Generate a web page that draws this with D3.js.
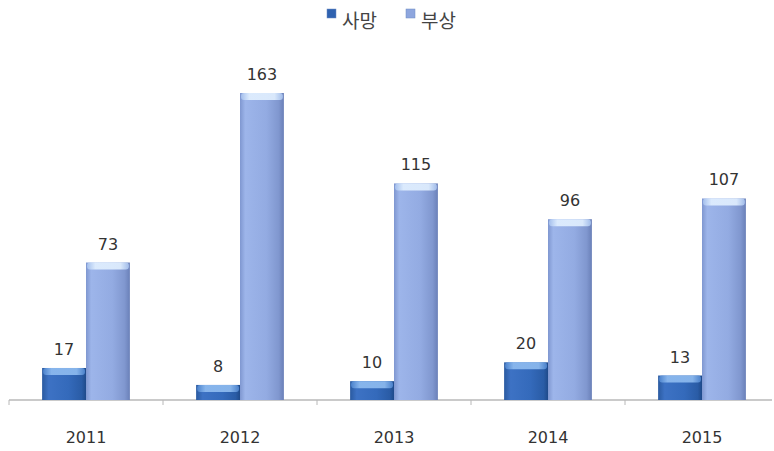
<!DOCTYPE html>
<html><head><meta charset="utf-8">
<script src="https://cdn.jsdelivr.net/npm/d3@7"></script>
<style>body{margin:0;background:#fff}svg{display:block}</style>
</head><body>
<svg id="c" width="774" height="451"></svg>
<script>
const categories = ["2011","2012","2013","2014","2015"];
const seriesNames = ["사망","부상"];
const deaths = [17, 8, 10, 20, 13];
const injuries = [73, 163, 115, 96, 107];

const svg = d3.select("#c");
const W = 774, H = 451;
const base = 400;
const x = d3.scaleBand().domain(categories).range([9, 779]).paddingInner(0.43).paddingOuter(0.215);
const x1 = d3.scaleBand().domain(seriesNames).range([0, x.bandwidth()]);
const y = d3.scaleLinear().domain([0, 163]).range([base, 93]);

const defs = svg.append("defs");
function grad(id, stops){
  const g = defs.append("linearGradient").attr("id", id).attr("x1","0").attr("x2","1").attr("y1","0").attr("y2","0");
  stops.forEach(s=>g.append("stop").attr("offset",s[0]).attr("stop-color",s[1]));
}
grad("gD", [[0,"#2a5aa0"],[0.15,"#3d72c4"],[0.6,"#346abb"],[0.9,"#2a5ca6"],[1,"#1f4a8a"]]);
grad("gI", [[0,"#7f97d0"],[0.12,"#9db5ea"],[0.6,"#93abe2"],[0.88,"#8097cf"],[1,"#6a80b8"]]);
grad("cD", [[0,"#4f86d0"],[0.2,"#8fbcf0"],[0.8,"#8fbcf0"],[1,"#4f86d0"]]);
grad("cI", [[0,"#a7c2ee"],[0.2,"#e2f0ff"],[0.8,"#e2f0ff"],[1,"#a7c2ee"]]);

// axis line and ticks
const axis = d3.axisBottom(x).tickSize(0).tickFormat("");
svg.append("line").attr("x1", 9).attr("x2", 772).attr("y1", base).attr("y2", base).attr("stroke","#b8b8b8").attr("stroke-width",1.5);
const bounds = [9].concat(categories.map(c => x(c) + x.bandwidth() + x.step()*x.paddingInner()/2));
svg.selectAll(".tk").data(bounds.filter(b=>b<772)).enter().append("line")
  .attr("x1", d=>d).attr("x2", d=>d).attr("y1", base).attr("y2", base+5).attr("stroke","#b8b8b8");

const data = categories.map((c,i)=>({c, vals:[{s:"사망",v:deaths[i]},{s:"부상",v:injuries[i]}]}));
const g = svg.selectAll(".grp").data(data).enter().append("g").attr("transform", d=>`translate(${x(d.c)},0)`);
const bars = g.selectAll(".b").data(d=>d.vals).enter().append("g");
bars.append("rect")
  .attr("x", d=>x1(d.s)).attr("width", x1.bandwidth())
  .attr("y", d=>y(d.v)).attr("height", d=>base - y(d.v))
  .attr("fill", d=>d.s==="사망"?"url(#gD)":"url(#gI)");
bars.append("rect")
  .attr("x", d=>x1(d.s)+1).attr("width", x1.bandwidth()-2)
  .attr("y", d=>y(d.v)).attr("height", 7).attr("rx",3)
  .attr("fill", d=>d.s==="사망"?"url(#cD)":"url(#cI)").attr("opacity",0.9);
bars.append("text")
  .attr("x", d=>x1(d.s)+x1.bandwidth()/2).attr("y", d=>y(d.v)-13)
  .attr("text-anchor","middle").attr("font-family","'DejaVu Sans', sans-serif").attr("font-size",16)
  .attr("fill","#333").text(d=>d.v);

svg.selectAll(".cl").data(categories).enter().append("text")
  .attr("x", d=>x(d)+x.bandwidth()/2).attr("y", 443)
  .attr("text-anchor","middle").attr("font-family","'DejaVu Sans', sans-serif").attr("font-size",16)
  .attr("fill","#333").text(d=>d);

// legend
const leg = svg.append("g");
const legItems = [{s:"사망",x:327,f:"#2f62b0"},{s:"부상",x:406,f:"#8ea6de"}];
legItems.forEach(it=>{
  leg.append("rect").attr("x", it.x).attr("y", 9).attr("width", 9).attr("height", 9).attr("fill", it.f).attr("stroke","#6d8cc4").attr("stroke-width",0.5);
  leg.append("text").attr("x", it.x+15).attr("y", 28).attr("font-family","'Noto Sans CJK KR', sans-serif").attr("font-size",19).attr("fill","#444").text(it.s);
});
</script>
</body></html>
